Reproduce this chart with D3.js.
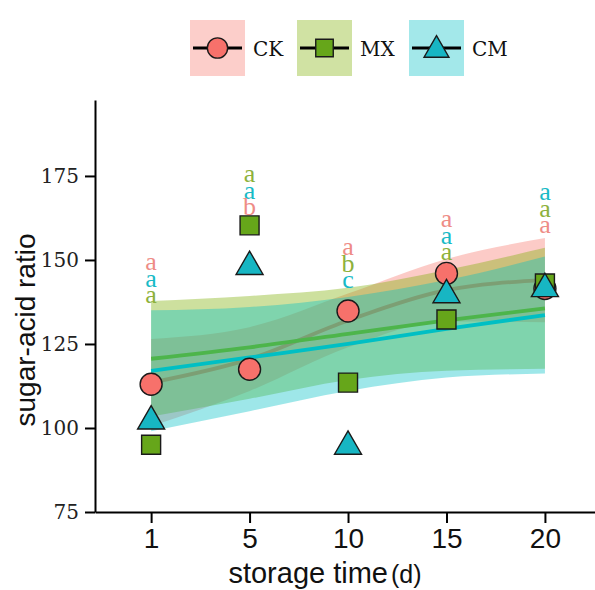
<!DOCTYPE html>
<html>
<head>
<meta charset="utf-8">
<script src="https://cdn.jsdelivr.net/npm/d3@7/dist/d3.min.js"></script>
<style>
  body { margin: 0; background: #fff; }
  svg { display: block; }
</style>
</head>
<body>
<svg id="chart" width="595" height="590"></svg>
<script>
// storage days (categorical axis)
var days = ["1", "5", "10", "15", "20"];
var groups = ["CK", "MX", "CM"];
var yTicks = [75, 100, 125, 150, 175];

// point means
var ckValues = [113, 117.5, 134.8, 146, 141.5];
var mxValues = [95, 160.3, 113.5, 132.3, 143];
var cmValues = [102, 148, 94.5, 139.6, 141.4];

// fitted smooth + confidence band
var ckFit = [113.5, 120.5, 132, 141, 144];
var ckLower = [100.5, 111, 124, 131.7, 131.5];
var ckUpper = [126.5, 130, 140, 150.3, 156.5];
var mxFit = [120.6, 124, 128, 132, 135.6];
var mxLower = [103.4, 108.7, 114.3, 117, 117.6];
var mxUpper = [137.8, 139.3, 141.7, 147, 153.6];
var cmFit = [117, 121, 125, 129.5, 133.6];
var cmLower = [99, 105, 111, 115, 116.2];
var cmUpper = [135, 136, 139, 144, 151];

// significance letters
var ckLetters = ["a", "b", "a", "a", "a"];
var mxLetters = ["a", "a", "b", "a", "a"];
var cmLetters = ["a", "a", "c", "a", "a"];
var letterOrder = [["CK", "CM", "MX"], ["MX", "CM", "CK"], ["CK", "MX", "CM"], ["CK", "CM", "MX"], ["CM", "MX", "CK"]];
var letterBase = [139.3, 165.5, 143.8, 152.1, 160.1];

var colors = { CK: "#F8766D", MX: "#7CAE00", CM: "#00BFC4" };
var pointFill = { CK: "#F7716B", MX: "#66A61A", CM: "#17B6C3" };
var letterColor = { CK: "#EE8C86", MX: "#8DB13C", CM: "#17BAC6" };
var symbols = { CK: d3.symbolCircle, MX: d3.symbolSquare, CM: d3.symbolTriangle };
var symbolSize = { CK: 380, MX: 361, CM: 316 };

var series = {
  CK: { values: ckValues, fit: ckFit, lower: ckLower, upper: ckUpper, letters: ckLetters },
  MX: { values: mxValues, fit: mxFit, lower: mxLower, upper: mxUpper, letters: mxLetters },
  CM: { values: cmValues, fit: cmFit, lower: cmLower, upper: cmUpper, letters: cmLetters }
};

var svg = d3.select("#chart");

var x = d3.scaleLinear().domain([0.43, 5.6]).range([95, 604]);
var y = d3.scaleLinear().domain([75, 197.6]).range([512, 100]);

// smooth bands and lines
groups.forEach(function (g) {
  var s = series[g];
  var area = d3.area()
    .curve(d3.curveMonotoneX)
    .x(function (d, i) { return x(i + 1); })
    .y0(function (d, i) { return y(s.lower[i]); })
    .y1(function (d, i) { return y(s.upper[i]); });
  var line = d3.line()
    .curve(d3.curveMonotoneX)
    .x(function (d, i) { return x(i + 1); })
    .y(function (d) { return y(d); });

  svg.append("path")
    .attr("d", area(s.fit))
    .attr("fill", colors[g])
    .attr("fill-opacity", 0.38);
  svg.append("path")
    .attr("d", line(s.fit))
    .attr("fill", "none")
    .attr("stroke", colors[g])
    .attr("stroke-width", 3.8);
});

// points
groups.forEach(function (g) {
  svg.append("g")
    .selectAll("path")
    .data(series[g].values)
    .enter()
    .append("path")
    .attr("d", d3.symbol().type(symbols[g]).size(symbolSize[g]))
    .attr("transform", function (d, i) {
      return "translate(" + x(i + 1) + "," + y(d) + ")";
    })
    .attr("fill", pointFill[g])
    .attr("stroke", "#1a1a1a")
    .attr("stroke-width", 1.4);
});

// letters above each day, one stacked text per day
days.forEach(function (day, i) {
  var order = letterOrder[i];
  var top = y(letterBase[i]) - (order.length - 1) * 16.5;
  var t = svg.append("text")
    .attr("text-anchor", "middle")
    .attr("font-family", "Liberation Serif, Times New Roman, serif")
    .attr("font-size", 26);
  order.forEach(function (g, k) {
    t.append("tspan")
      .attr("x", x(i + 1))
      .attr("y", top + k * 16.5)
      .attr("dy", "0.28em")
      .attr("fill", letterColor[g])
      .text(series[g].letters[i]);
  });
});

// axes
var yAxis = d3.axisLeft(y).tickValues(yTicks).tickSize(10).tickSizeOuter(0).tickPadding(6);
var gy = svg.append("g").attr("transform", "translate(95,0)").call(yAxis);
gy.select(".domain").attr("stroke", "#000").attr("stroke-width", 2);
gy.selectAll(".tick line").attr("stroke", "#000").attr("stroke-width", 2);
gy.selectAll(".tick text")
  .attr("font-family", "DejaVu Serif, serif")
  .attr("font-size", 20)
  .attr("fill", "#222");

var xAxis = d3.axisBottom(x).tickValues([1, 2, 3, 4, 5])
  .tickFormat(function (d) { return days[d - 1]; })
  .tickSize(11).tickSizeOuter(0).tickPadding(5);
var gx = svg.append("g").attr("transform", "translate(0,512)").call(xAxis);
gx.select(".domain").attr("stroke", "#000").attr("stroke-width", 2);
gx.selectAll(".tick line").attr("stroke", "#000").attr("stroke-width", 2);
gx.selectAll(".tick text")
  .attr("font-family", "Liberation Sans, Arial, sans-serif")
  .attr("font-size", 28)
  .attr("fill", "#111");

// axis titles
var xt = svg.append("text")
  .attr("x", 325)
  .attr("y", 583)
  .attr("text-anchor", "middle")
  .attr("font-family", "Liberation Sans, Arial, sans-serif")
  .attr("font-size", 29)
  .attr("fill", "#111");
xt.append("tspan").text("storage time");
xt.append("tspan").attr("font-size", 25).attr("dx", 3).text("(d)");

svg.append("text")
  .attr("transform", "translate(35,330) rotate(-90)")
  .attr("text-anchor", "middle")
  .attr("font-family", "Liberation Sans, Arial, sans-serif")
  .attr("font-size", 28)
  .attr("fill", "#111")
  .text("sugar-acid ratio");

// legend
var legendX = [190, 297, 409];
groups.forEach(function (g, i) {
  var lg = svg.append("g").attr("transform", "translate(" + legendX[i] + ",20)");
  lg.append("rect")
    .attr("width", 55).attr("height", 56)
    .attr("fill", colors[g]).attr("fill-opacity", 0.36);
  lg.append("line")
    .attr("x1", 3).attr("x2", 52).attr("y1", 28).attr("y2", 28)
    .attr("stroke", "#000").attr("stroke-width", 3);
  lg.append("path")
    .attr("d", d3.symbol().type(symbols[g]).size(symbolSize[g] * 0.85))
    .attr("transform", "translate(27.5," + (g === "CM" ? 30 : 28) + ")")
    .attr("fill", pointFill[g])
    .attr("stroke", "#1a1a1a")
    .attr("stroke-width", 1.4);
  lg.append("text")
    .attr("x", 63).attr("y", 36)
    .attr("font-family", "DejaVu Serif, serif")
    .attr("font-size", 20)
    .attr("fill", "#111")
    .text(g);
});
</script>
</body>
</html>
